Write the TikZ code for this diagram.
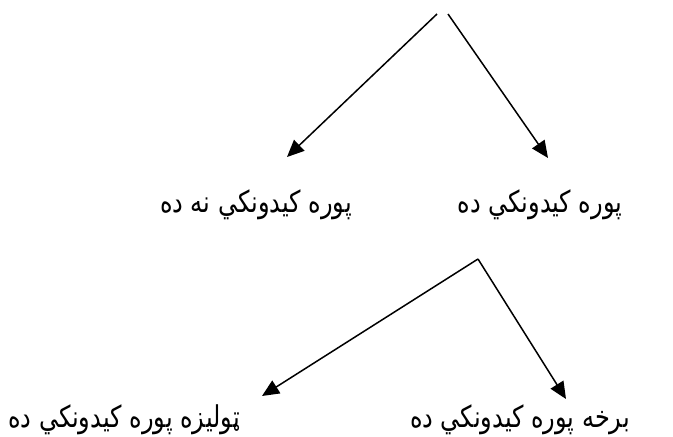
\documentclass[tikz,border=0pt]{standalone}
\usepackage{fontspec}
\usepackage{graphicx}
\TeXXeTstate=1
\newfontfamily\arabicfont[Script=Arabic]{DejaVu Sans}
\usetikzlibrary{arrows.meta}
\newcommand{\pstxt}[1]{\scalebox{1}[1.25]{\beginR #1\endR}}
\tikzset{
  lbl/.style={inner sep=0pt, font=\arabicfont\fontsize{24pt}{28pt}\selectfont},
  arr/.style={line width=1.5pt, -{Triangle[length=17pt,width=15pt]}}
}
\begin{document}
\begin{tikzpicture}[x=1pt,y=-1pt]
\useasboundingbox (0,0) rectangle (673,437);
% labels
\node[lbl] (ml) at (256,205) {\pstxt{پوره کيدونکي نه ده}};
\node[lbl] (mr) at (540,205) {\pstxt{پوره کيدونکي ده}};
\node[lbl] (bl) at (124,420) {\pstxt{ټوليزه پوره کيدونکي ده}};
\node[lbl] (br) at (520,420) {\pstxt{برخه پوره کيدونکي ده}};
% connector ends
\coordinate (s1) at (437,14);
\coordinate (s2) at (448,14);
\coordinate (t1) at (287,157);
\coordinate (t2) at (548,158);
\coordinate (s3) at (478,259);
\coordinate (t3) at (262,396);
\coordinate (t4) at (566,399);
% connectors
\draw[arr] (s1) -- (t1);
\draw[arr] (s2) -- (t2);
\draw[arr] (s3) -- (t3);
\draw[arr] (s3) -- (t4);
\end{tikzpicture}
\end{document}
